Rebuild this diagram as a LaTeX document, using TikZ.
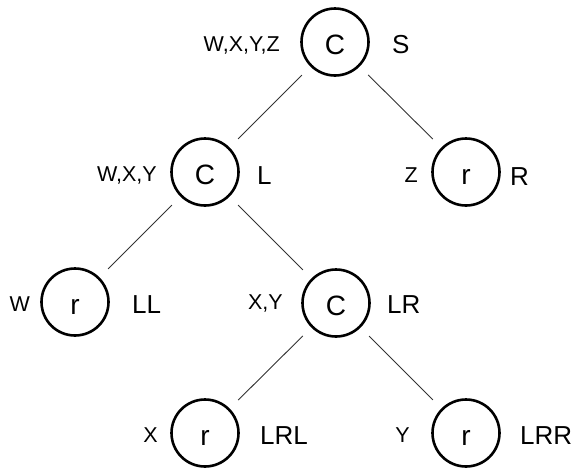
\documentclass[tikz,border=0pt]{standalone}
\usepackage{fontspec}
\setmainfont{Liberation Sans}
\begin{document}
\begin{tikzpicture}[x=1pt,y=-1pt,
  tnode/.style={draw, circle, line width=2.6pt, minimum size=67pt, inner sep=0pt,
    font=\fontsize{28}{28}\selectfont, text height=24pt, text depth=0pt},
  setlbl/.style={inner sep=0pt, anchor=east, font=\fontsize{21.5}{21.5}\selectfont,
    text height=15.5pt, text depth=0pt},
  namelbl/.style={inner sep=0pt, anchor=west, font=\fontsize{26}{26}\selectfont,
    text height=18.5pt, text depth=0pt},
  edge/.style={line width=0.9pt, black!80, shorten >=12pt, shorten <=12pt}]
\useasboundingbox (0,0) rectangle (580,469);

% tree nodes
\node[tnode] (S)   at (335,42)  {C};
\node[tnode] (L)   at (205,172) {C};
\node[tnode] (R)   at (466,172) {r};
\node[tnode] (LL)  at (75,302)  {r};
\node[tnode] (LR)  at (336,303) {C};
\node[tnode] (LRL) at (205,433) {r};
\node[tnode] (LRR) at (466,433) {r};

% variable sets
\node[setlbl] (sS)   at (280,44)  {W,X,Y,Z};
\node[setlbl] (sL)   at (157,174) {W,X,Y};
\node[setlbl] (sR)   at (418,175) {Z};
\node[setlbl] (sLL)  at (30,304)  {W};
\node[setlbl] (sLR)  at (283,302) {X,Y};
\node[setlbl] (sLRL) at (158,435) {X};
\node[setlbl] (sLRR) at (410,435) {Y};

% node names
\node[namelbl] (nS)   at (392,44)  {S};
\node[namelbl] (nL)   at (257,175) {L};
\node[namelbl] (nR)   at (510,176) {R};
\node[namelbl] (nLL)  at (132,304) {LL};
\node[namelbl] (nLR)  at (387,304) {LR};
\node[namelbl] (nLRL) at (260,435) {LRL};
\node[namelbl] (nLRR) at (520,435) {LRR};

% edges
\draw[edge] (S) -- (L);
\draw[edge] (S) -- (R);
\draw[edge] (L) -- (LL);
\draw[edge] (L) -- (LR);
\draw[edge] (LR) -- (LRL);
\draw[edge] (LR) -- (LRR);
\end{tikzpicture}
\end{document}
